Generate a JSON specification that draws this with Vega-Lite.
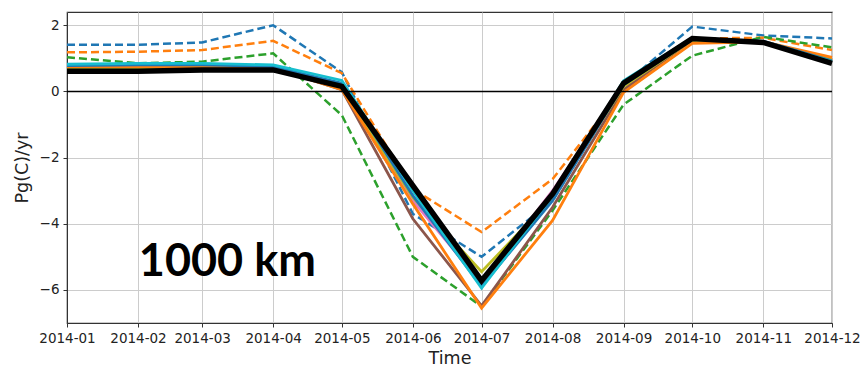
{
  "$schema": "https://vega.github.io/schema/vega-lite/v6.json",
  "width": 765,
  "height": 311,
  "autosize": "none",
  "padding": {"left": 67, "top": 12, "right": 28, "bottom": 47},
  "background": "white",
  "config": {
    "view": {"stroke": "#333333", "strokeWidth": 1.2},
    "axis": {
      "labelFont": "DejaVu Sans",
      "labelFontSize": 13.5,
      "labelColor": "#222222",
      "titleFont": "DejaVu Sans",
      "titleFontWeight": "normal",
      "titleColor": "#222222",
      "titleFontSize": 17.5,
      "gridColor": "#cccccc",
      "gridWidth": 1,
      "domainColor": "#333333",
      "tickColor": "#333333",
      "tickSize": 4
    }
  },
  "datasets": {
    "series": [
      {"series": "d1", "date": "2014-01-01", "v": 1.41}, {"series": "d1", "date": "2014-02-01", "v": 1.41}, {"series": "d1", "date": "2014-03-01", "v": 1.48}, {"series": "d1", "date": "2014-04-01", "v": 2.0}, {"series": "d1", "date": "2014-05-01", "v": 0.58}, {"series": "d1", "date": "2014-06-01", "v": -3.7}, {"series": "d1", "date": "2014-07-01", "v": -5.0}, {"series": "d1", "date": "2014-08-01", "v": -3.3}, {"series": "d1", "date": "2014-09-01", "v": 0.2}, {"series": "d1", "date": "2014-10-01", "v": 1.96}, {"series": "d1", "date": "2014-11-01", "v": 1.69}, {"series": "d1", "date": "2014-12-01", "v": 1.6},
      {"series": "d2", "date": "2014-01-01", "v": 1.18}, {"series": "d2", "date": "2014-02-01", "v": 1.2}, {"series": "d2", "date": "2014-03-01", "v": 1.25}, {"series": "d2", "date": "2014-04-01", "v": 1.53}, {"series": "d2", "date": "2014-05-01", "v": 0.55}, {"series": "d2", "date": "2014-06-01", "v": -2.95}, {"series": "d2", "date": "2014-07-01", "v": -4.25}, {"series": "d2", "date": "2014-08-01", "v": -2.65}, {"series": "d2", "date": "2014-09-01", "v": 0.1}, {"series": "d2", "date": "2014-10-01", "v": 1.6}, {"series": "d2", "date": "2014-11-01", "v": 1.62}, {"series": "d2", "date": "2014-12-01", "v": 1.25},
      {"series": "d3", "date": "2014-01-01", "v": 1.03}, {"series": "d3", "date": "2014-02-01", "v": 0.85}, {"series": "d3", "date": "2014-03-01", "v": 0.9}, {"series": "d3", "date": "2014-04-01", "v": 1.15}, {"series": "d3", "date": "2014-05-01", "v": -0.72}, {"series": "d3", "date": "2014-06-01", "v": -5.0}, {"series": "d3", "date": "2014-07-01", "v": -6.5}, {"series": "d3", "date": "2014-08-01", "v": -3.6}, {"series": "d3", "date": "2014-09-01", "v": -0.4}, {"series": "d3", "date": "2014-10-01", "v": 1.08}, {"series": "d3", "date": "2014-11-01", "v": 1.65}, {"series": "d3", "date": "2014-12-01", "v": 1.33},
      {"series": "s1", "date": "2014-01-01", "v": 0.7}, {"series": "s1", "date": "2014-02-01", "v": 0.7}, {"series": "s1", "date": "2014-03-01", "v": 0.72}, {"series": "s1", "date": "2014-04-01", "v": 0.7}, {"series": "s1", "date": "2014-05-01", "v": 0.05}, {"series": "s1", "date": "2014-06-01", "v": -3.85}, {"series": "s1", "date": "2014-07-01", "v": -6.48}, {"series": "s1", "date": "2014-08-01", "v": -3.5}, {"series": "s1", "date": "2014-09-01", "v": 0.05}, {"series": "s1", "date": "2014-10-01", "v": 1.55}, {"series": "s1", "date": "2014-11-01", "v": 1.5}, {"series": "s1", "date": "2014-12-01", "v": 0.95},
      {"series": "s2", "date": "2014-01-01", "v": 0.72}, {"series": "s2", "date": "2014-02-01", "v": 0.72}, {"series": "s2", "date": "2014-03-01", "v": 0.75}, {"series": "s2", "date": "2014-04-01", "v": 0.72}, {"series": "s2", "date": "2014-05-01", "v": 0.1}, {"series": "s2", "date": "2014-06-01", "v": -3.3}, {"series": "s2", "date": "2014-07-01", "v": -5.8}, {"series": "s2", "date": "2014-08-01", "v": -3.0}, {"series": "s2", "date": "2014-09-01", "v": 0.2}, {"series": "s2", "date": "2014-10-01", "v": 1.58}, {"series": "s2", "date": "2014-11-01", "v": 1.5}, {"series": "s2", "date": "2014-12-01", "v": 0.95},
      {"series": "s3", "date": "2014-01-01", "v": 0.7}, {"series": "s3", "date": "2014-02-01", "v": 0.72}, {"series": "s3", "date": "2014-03-01", "v": 0.72}, {"series": "s3", "date": "2014-04-01", "v": 0.7}, {"series": "s3", "date": "2014-05-01", "v": 0.1}, {"series": "s3", "date": "2014-06-01", "v": -3.2}, {"series": "s3", "date": "2014-07-01", "v": -5.45}, {"series": "s3", "date": "2014-08-01", "v": -3.2}, {"series": "s3", "date": "2014-09-01", "v": 0.15}, {"series": "s3", "date": "2014-10-01", "v": 1.55}, {"series": "s3", "date": "2014-11-01", "v": 1.5}, {"series": "s3", "date": "2014-12-01", "v": 0.95},
      {"series": "s4", "date": "2014-01-01", "v": 0.75}, {"series": "s4", "date": "2014-02-01", "v": 0.75}, {"series": "s4", "date": "2014-03-01", "v": 0.75}, {"series": "s4", "date": "2014-04-01", "v": 0.72}, {"series": "s4", "date": "2014-05-01", "v": 0.05}, {"series": "s4", "date": "2014-06-01", "v": -3.4}, {"series": "s4", "date": "2014-07-01", "v": -6.55}, {"series": "s4", "date": "2014-08-01", "v": -3.9}, {"series": "s4", "date": "2014-09-01", "v": -0.03}, {"series": "s4", "date": "2014-10-01", "v": 1.45}, {"series": "s4", "date": "2014-11-01", "v": 1.5}, {"series": "s4", "date": "2014-12-01", "v": 1.03},
      {"series": "s5", "date": "2014-01-01", "v": 0.78}, {"series": "s5", "date": "2014-02-01", "v": 0.8}, {"series": "s5", "date": "2014-03-01", "v": 0.8}, {"series": "s5", "date": "2014-04-01", "v": 0.75}, {"series": "s5", "date": "2014-05-01", "v": 0.25}, {"series": "s5", "date": "2014-06-01", "v": -3.15}, {"series": "s5", "date": "2014-07-01", "v": -5.9}, {"series": "s5", "date": "2014-08-01", "v": -3.3}, {"series": "s5", "date": "2014-09-01", "v": 0.2}, {"series": "s5", "date": "2014-10-01", "v": 1.58}, {"series": "s5", "date": "2014-11-01", "v": 1.52}, {"series": "s5", "date": "2014-12-01", "v": 0.92},
      {"series": "s6", "date": "2014-01-01", "v": 0.82}, {"series": "s6", "date": "2014-02-01", "v": 0.85}, {"series": "s6", "date": "2014-03-01", "v": 0.85}, {"series": "s6", "date": "2014-04-01", "v": 0.8}, {"series": "s6", "date": "2014-05-01", "v": 0.33}, {"series": "s6", "date": "2014-06-01", "v": -3.0}, {"series": "s6", "date": "2014-07-01", "v": -5.95}, {"series": "s6", "date": "2014-08-01", "v": -3.15}, {"series": "s6", "date": "2014-09-01", "v": 0.32}, {"series": "s6", "date": "2014-10-01", "v": 1.62}, {"series": "s6", "date": "2014-11-01", "v": 1.5}, {"series": "s6", "date": "2014-12-01", "v": 0.9},
      {"series": "mean", "date": "2014-01-01", "v": 0.61}, {"series": "mean", "date": "2014-02-01", "v": 0.61}, {"series": "mean", "date": "2014-03-01", "v": 0.65}, {"series": "mean", "date": "2014-04-01", "v": 0.65}, {"series": "mean", "date": "2014-05-01", "v": 0.15}, {"series": "mean", "date": "2014-06-01", "v": -2.85}, {"series": "mean", "date": "2014-07-01", "v": -5.72}, {"series": "mean", "date": "2014-08-01", "v": -3.1}, {"series": "mean", "date": "2014-09-01", "v": 0.25}, {"series": "mean", "date": "2014-10-01", "v": 1.6}, {"series": "mean", "date": "2014-11-01", "v": 1.48}, {"series": "mean", "date": "2014-12-01", "v": 0.85}
    ],
    "label": [
      {"date": "2014-03-12", "v": -5.15, "text": "1000 km"}
    ]
  },
  "layer": [
    {
      "data": {"name": "series"},
      "transform": [{"filter": "indexof(['d1','d2','d3'], datum.series) >= 0"}],
      "mark": {"type": "line", "strokeWidth": 2.5, "strokeDash": [8, 4]},
      "encoding": {
        "x": {
          "field": "date", "type": "temporal",
          "scale": {"type": "utc", "domain": ["2014-01-01", "2014-12-01"]},
          "axis": {"title": "Time", "format": "%Y-%m", "tickCount": {"interval": "month", "step": 1}, "labelOverlap": false, "labelFlush": false, "labelPadding": 4, "titlePadding": 5, "grid": true}
        },
        "y": {
          "field": "v", "type": "quantitative",
          "scale": {"domain": [-7, 2.4], "nice": false, "zero": false},
          "axis": {"title": "Pg(C)/yr", "values": [-6, -4, -2, 0, 2], "format": "~d", "labelPadding": 4, "titlePadding": 8, "grid": true}
        },
        "color": {"field": "series", "type": "nominal", "legend": null,
          "scale": {"domain": ["d1", "d2", "d3"], "range": ["#1f77b4", "#ff7f0e", "#2ca02c"]}}
      }
    },
    {
      "data": {"name": "series"},
      "transform": [{"filter": "indexof(['s1','s2','s3','s4','s5','s6'], datum.series) >= 0"}],
      "mark": {"type": "line", "strokeWidth": 2.8},
      "encoding": {
        "x": {"field": "date", "type": "temporal"},
        "y": {"field": "v", "type": "quantitative"},
        "stroke": {"field": "series", "type": "nominal", "legend": null,
          "scale": {"domain": ["s1", "s2", "s3", "s4", "s5", "s6"], "range": ["#8c564b", "#e377c2", "#bcbd22", "#ff7f0e", "#1f77b4", "#17becf"]}}
      }
    },
    {
      "data": {"name": "series"},
      "transform": [{"filter": "datum.series == 'mean'"}],
      "mark": {"type": "line", "strokeWidth": 5.5, "color": "black"},
      "encoding": {
        "x": {"field": "date", "type": "temporal"},
        "y": {"field": "v", "type": "quantitative"}
      }
    },
    {
      "data": {"values": [{"zero": 0}]},
      "mark": {"type": "rule", "color": "black", "strokeWidth": 1.5},
      "encoding": {"y": {"field": "zero", "type": "quantitative"}}
    },
    {
      "data": {"name": "label"},
      "mark": {"type": "text", "font": "Lato", "fontWeight": "bold", "fontSize": 45, "color": "black", "align": "center", "baseline": "middle"},
      "encoding": {
        "x": {"field": "date", "type": "temporal"},
        "y": {"field": "v", "type": "quantitative"},
        "text": {"field": "text"}
      }
    }
  ]
}
